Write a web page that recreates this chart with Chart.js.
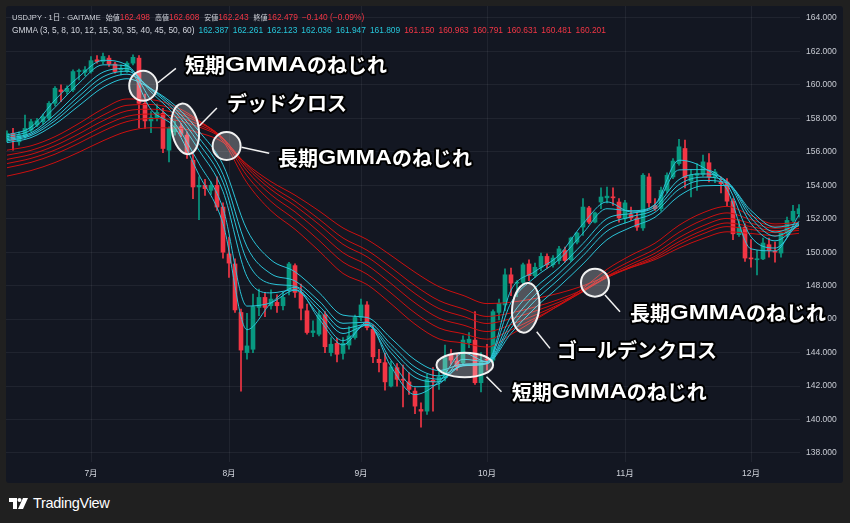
<!DOCTYPE html>
<html>
<head>
<meta charset="utf-8">
<script src="https://cdn.jsdelivr.net/npm/chart.js@4.4.1/dist/chart.umd.min.js"></script>
<style>
  html, body { margin: 0; padding: 0; width: 850px; height: 523px; overflow: hidden; background: #202020;
    font-family: "Liberation Sans", "Noto Sans CJK JP", sans-serif; }
  #panel { position: absolute; left: 6px; top: 6px; width: 837px; height: 477px; background: #131722;
    border-radius: 3px; overflow: hidden; }
  #chart { position: absolute; left: 0; top: 0; }
  #legend { position: absolute; left: 12px; top: 11px; font-size: 8.4px; line-height: 13px; color: #d1d4dc;
    white-space: nowrap; }
  #row1 .name { font-size: 7.6px; }
  #row1 .grp { margin-left: 5px; }
  #row1 .lbl { font-size: 7px; }
  #row1 .chg { margin-left: 4px; }
  #row2 span { margin-right: 4px; }
  .up { color: #26c6da; }
  .dn { color: #f23645; }
  #brand { position: absolute; left: 9px; top: 494px; height: 18px; display: flex; align-items: center; color: #fff;
    font-size: 14.5px; letter-spacing: -0.3px; }
  #brand svg { margin-right: 5px; }
</style>
</head>
<body>
<div id="panel"><canvas id="chart" width="837" height="477"></canvas></div>
<div id="legend"><div id="row1"></div><div id="row2"></div></div>
<div id="brand">
  <svg width="19" height="11" viewBox="0 0 19 11"><path d="M0 0H8V11H4V4H0Z" fill="#fff"/><circle cx="10.5" cy="2" r="2" fill="#fff"/><path d="M14 0H19L14 11H9Z" fill="#fff"/></svg>
  <span>TradingView</span>
</div>
<script>
// USDJPY daily, bar 0 = 6/11, bar 14 = 7/1 ... bar 132 = 12/12
const months = ['7月', '8月', '9月', '10月', '11月', '12月'];
const monthStartIdx = [14, 37, 59, 80, 103, 124];
const priceTicks = [138, 140, 142, 144, 146, 148, 150, 152, 154, 156, 158, 160, 162, 164];

const opens = [156.80, 157.10, 156.60, 156.90, 157.30, 157.60, 157.80, 158.00, 158.90, 159.70,
  159.60, 159.70, 160.80, 160.75, 160.80, 161.50, 161.40, 161.60, 161.25, 160.90,
  160.80, 161.30, 161.60, 158.90, 157.85, 158.05, 158.30, 156.10, 157.20, 157.50,
  157.00, 155.50, 153.90, 154.00, 153.70, 154.00, 152.70, 149.90, 149.30, 146.40,
  144.00, 144.20, 146.70, 147.30, 146.80, 147.00, 146.80, 147.75, 149.20, 147.60,
  146.50, 145.20, 145.10, 146.25, 144.00, 144.55, 143.95, 144.45, 144.90, 146.10,
  146.85, 145.40, 143.60, 143.40, 142.00, 143.10, 142.40, 142.25, 141.70, 140.60,
  140.50, 142.35, 142.25, 142.50, 143.85, 143.50, 143.40, 144.60, 144.75, 142.20,
  143.60, 143.55, 146.40, 146.85, 148.65, 148.15, 148.20, 149.30, 148.60, 149.10,
  149.75, 149.25, 149.50, 150.10, 149.55, 150.60, 151.50, 152.65, 151.80, 153.00,
  153.25, 153.30, 153.00, 152.00, 152.25, 152.05, 151.45, 154.50, 152.80, 152.60,
  153.70, 154.50, 155.30, 156.20, 154.25, 154.60, 154.65, 155.35, 154.50, 154.20,
  154.20, 153.05, 151.05, 151.50, 149.65, 149.55, 149.60, 150.45, 150.05, 149.95,
  151.15, 151.90, 152.30];
const highs = [157.25, 157.40, 157.20, 158.20, 157.95, 158.00, 158.25, 159.00, 159.90, 160.00,
  159.95, 160.90, 160.95, 161.10, 161.70, 161.75, 161.90, 161.75, 161.35, 161.20,
  161.40, 161.80, 161.75, 159.45, 158.40, 158.85, 158.60, 157.50, 157.85, 157.70,
  157.20, 155.90, 154.50, 154.35, 154.20, 154.50, 152.95, 150.90, 149.60, 146.60,
  146.35, 147.50, 147.80, 147.60, 147.75, 147.45, 147.60, 149.40, 149.30, 148.10,
  146.90, 145.90, 146.50, 146.45, 144.90, 144.85, 144.90, 145.55, 146.25, 147.20,
  147.05, 145.65, 144.20, 143.95, 143.50, 143.35, 143.25, 142.80, 141.90, 141.00,
  142.70, 143.10, 143.00, 144.45, 144.20, 143.90, 145.00, 145.20, 146.45, 144.00,
  144.50, 146.55, 147.20, 149.00, 149.05, 148.30, 149.35, 149.55, 149.35, 149.95,
  149.90, 149.80, 150.35, 150.30, 150.90, 151.20, 153.20, 152.75, 152.40, 153.85,
  153.90, 153.85, 153.20, 153.10, 152.70, 152.40, 154.70, 154.70, 153.20, 153.90,
  154.75, 155.60, 156.75, 156.70, 154.95, 155.30, 155.80, 155.90, 154.95, 154.50,
  154.40, 153.20, 151.95, 151.70, 150.75, 150.10, 150.85, 150.85, 150.60, 151.20,
  152.10, 152.80, 152.85];
const lows = [156.60, 156.10, 156.40, 156.80, 157.20, 157.50, 157.65, 157.90, 158.75, 159.00,
  159.45, 159.60, 160.30, 160.55, 160.70, 161.30, 161.25, 161.10, 160.70, 160.60,
  160.75, 161.20, 157.45, 157.40, 157.15, 157.85, 155.95, 155.40, 157.00, 156.90,
  155.60, 153.20, 151.95, 153.40, 153.45, 152.50, 149.65, 148.50, 146.40, 141.70,
  143.60, 144.00, 146.20, 146.15, 146.60, 146.40, 146.55, 147.45, 147.30, 145.95,
  145.10, 144.95, 145.00, 144.00, 143.80, 143.45, 143.60, 144.20, 144.80, 145.90,
  145.35, 143.40, 142.85, 141.75, 141.95, 142.00, 140.75, 141.50, 140.35, 139.55,
  140.30, 140.50, 141.80, 142.30, 143.30, 142.95, 143.30, 144.30, 142.10, 141.65,
  142.95, 143.35, 145.95, 146.50, 147.40, 147.35, 148.05, 148.30, 148.50, 148.90,
  149.05, 149.10, 149.30, 149.40, 149.45, 150.50, 151.00, 151.70, 151.75, 152.60,
  152.95, 152.80, 151.80, 151.75, 151.90, 151.30, 151.30, 152.70, 152.50, 152.45,
  153.55, 154.40, 155.20, 153.85, 153.30, 153.70, 154.55, 154.20, 154.15, 153.55,
  152.75, 150.75, 150.95, 149.45, 149.10, 148.65, 149.55, 149.70, 149.40, 149.70,
  150.95, 151.80, 152.10];
const closes = [157.10, 156.70, 157.00, 157.40, 157.80, 157.85, 158.10, 158.90, 159.80, 159.60,
  159.80, 160.80, 160.80, 160.90, 161.45, 161.40, 161.70, 161.25, 160.80, 161.00,
  161.30, 161.65, 158.90, 157.85, 158.05, 158.35, 156.20, 157.40, 157.50, 157.10,
  155.90, 153.90, 154.00, 153.80, 154.00, 152.70, 150.00, 149.35, 146.55, 144.15,
  144.40, 146.75, 147.30, 146.70, 147.20, 146.80, 147.30, 149.30, 147.60, 146.65,
  145.20, 145.30, 146.25, 144.35, 144.50, 143.90, 144.55, 145.00, 146.10, 146.85,
  145.50, 143.75, 143.40, 142.25, 143.15, 142.40, 142.35, 141.80, 140.80, 140.50,
  142.40, 142.25, 142.55, 143.70, 143.55, 143.15, 144.75, 144.80, 142.20, 143.45,
  143.55, 146.45, 146.95, 148.65, 148.15, 148.20, 149.25, 148.60, 149.10, 149.75,
  149.25, 149.65, 150.20, 149.50, 150.85, 151.15, 152.70, 151.80, 152.35, 153.30,
  153.35, 153.25, 152.05, 152.95, 152.05, 151.50, 154.60, 152.95, 152.60, 153.70,
  154.60, 155.45, 156.30, 154.45, 154.60, 154.70, 155.40, 154.50, 154.80, 154.10,
  153.05, 151.10, 151.50, 149.65, 149.60, 149.60, 150.55, 150.10, 150.00, 151.15,
  151.90, 152.45, 152.60];

// GMMA lines every 4 bars
const gmmaIdx = [0, 4, 8, 12, 16, 20, 24, 28, 32, 36, 40, 44, 48, 52, 56, 60, 64,
  68, 72, 76, 80, 84, 88, 92, 96, 100, 104, 108, 112, 116, 120, 124, 128, 132];
const ema3 = [157.00, 157.48, 159.10, 160.49, 161.47, 161.17, 158.53, 157.43, 154.62, 151.70, 145.37, 146.95, 147.90, 146.01, 144.46, 145.82, 143.16,
  141.49, 142.26, 143.98, 143.46, 147.73, 148.85, 149.83, 151.70, 153.01, 152.41, 152.86, 155.50, 155.07, 153.75, 150.20, 150.08, 152.23];
const ema5 = [156.90, 157.31, 158.66, 160.11, 161.20, 161.14, 159.10, 157.69, 155.30, 152.62, 146.78, 146.98, 147.73, 146.22, 144.71, 145.68, 143.55,
  141.96, 142.14, 143.60, 143.46, 146.99, 148.50, 149.56, 151.14, 152.60, 152.48, 152.84, 154.92, 154.94, 154.06, 150.92, 150.25, 151.85];
const ema8 = [156.80, 157.14, 158.24, 159.60, 160.76, 160.98, 159.58, 158.16, 156.09, 153.63, 148.54, 147.57, 147.76, 146.54, 145.14, 145.63, 144.00,
  142.52, 142.25, 143.29, 143.39, 146.16, 147.86, 149.07, 150.52, 152.01, 152.32, 152.71, 154.34, 154.68, 154.22, 151.71, 150.68, 151.63];
const ema10 = [156.72, 157.05, 158.03, 159.32, 160.48, 160.82, 159.72, 158.41, 156.50, 154.18, 149.50, 148.12, 147.97, 146.79, 145.43, 145.69, 144.24,
  142.84, 142.41, 143.21, 143.34, 145.75, 147.45, 148.73, 150.15, 151.63, 152.12, 152.57, 154.04, 154.49, 154.21, 152.05, 150.96, 151.61];
const ema12 = [156.65, 156.97, 157.86, 159.07, 160.21, 160.64, 159.78, 158.59, 156.84, 154.65, 150.32, 148.71, 148.28, 147.09, 145.75, 145.82, 144.49,
  143.14, 142.61, 143.22, 143.34, 145.46, 147.10, 148.39, 149.79, 151.26, 151.87, 152.39, 153.76, 154.29, 154.15, 152.29, 151.21, 151.66];
const ema15 = [156.55, 156.85, 157.65, 158.76, 159.85, 160.37, 159.77, 158.77, 157.23, 155.23, 151.34, 149.54, 148.83, 147.59, 146.24, 146.10, 144.86,
  143.57, 142.93, 143.31, 143.37, 145.15, 146.67, 147.94, 149.30, 150.75, 151.49, 152.09, 153.36, 153.97, 153.99, 152.49, 151.49, 151.74];
const ema30 = [156.10, 156.36, 156.91, 157.70, 158.57, 159.16, 159.12, 158.71, 157.87, 156.64, 154.15, 152.48, 151.37, 150.08, 148.73, 148.07, 146.92,
  145.70, 144.82, 144.58, 144.33, 145.08, 145.95, 146.84, 147.84, 148.98, 149.82, 150.54, 151.61, 152.36, 152.74, 152.19, 151.69, 151.79];
const ema35 = [155.80, 156.09, 156.62, 157.37, 158.19, 158.78, 158.83, 158.53, 157.83, 156.76, 154.57, 153.03, 151.95, 150.71, 149.41, 148.69, 147.56,
  146.37, 145.47, 145.13, 144.80, 145.36, 146.06, 146.81, 147.69, 148.71, 149.49, 150.19, 151.19, 151.93, 152.35, 151.95, 151.56, 151.67];
const ema40 = [155.55, 155.85, 156.37, 157.08, 157.86, 158.45, 158.55, 158.33, 157.75, 156.82, 154.86, 153.44, 152.41, 151.22, 149.97, 149.23, 148.13,
  146.97, 146.06, 145.65, 145.26, 145.67, 146.24, 146.88, 147.64, 148.56, 149.28, 149.94, 150.87, 151.58, 152.02, 151.73, 151.43, 151.55];
const ema45 = [155.30, 155.61, 156.11, 156.79, 157.54, 158.12, 158.26, 158.11, 157.62, 156.81, 155.06, 153.75, 152.78, 151.66, 150.47, 149.73, 148.66,
  147.53, 146.63, 146.17, 145.74, 146.03, 146.48, 147.01, 147.67, 148.49, 149.15, 149.76, 150.63, 151.31, 151.75, 151.53, 151.29, 151.42];
const ema50 = [155.05, 155.37, 155.86, 156.52, 157.24, 157.81, 157.99, 157.90, 157.49, 156.77, 155.18, 153.97, 153.05, 151.98, 150.85, 150.12, 149.09,
  148.00, 147.11, 146.62, 146.16, 146.37, 146.73, 147.18, 147.76, 148.49, 149.09, 149.65, 150.46, 151.10, 151.53, 151.36, 151.17, 151.31];
const ema60 = [154.55, 154.88, 155.36, 155.98, 156.66, 157.22, 157.44, 157.43, 157.14, 156.57, 155.25, 154.22, 153.41, 152.47, 151.45, 150.76, 149.81,
  148.80, 147.94, 147.42, 146.93, 147.01, 147.23, 147.55, 147.99, 148.58, 149.08, 149.56, 150.25, 150.82, 151.22, 151.12, 150.99, 151.13];

// legend texts
const ohlcLabels = ['始値', '高値', '安値', '終値'];
const ohlcValues = ['162.498', '162.608', '162.243', '162.479'];
const shortLegend = ['162.387', '162.261', '162.123', '162.036', '161.947', '161.809'];
const longLegend = ['161.150', '160.963', '160.791', '160.631', '160.481', '160.201'];

const upColor = '#089981';
const downColor = '#f23645';
const shortColor = '#2bc4d8';
const longColor = '#cc1010';

// legend rows
const row1 = document.getElementById('row1');
row1.innerHTML = '<span class="name">USDJPY · 1日 · GAITAME</span>' +
  ohlcLabels.map((l, k) => '<span class="grp"><span class="lbl">' + l + '</span><span class="dn">' + ohlcValues[k] + '</span></span>').join('') +
  '<span class="dn chg">−0.140 (−0.09%)</span>';
const row2 = document.getElementById('row2');
row2.innerHTML = '<span>GMMA (3, 5, 8, 10, 12, 15, 30, 35, 40, 45, 50, 60)</span>' +
  shortLegend.map(v => '<span class="up">' + v + '</span>').join('') +
  longLegend.map(v => '<span class="dn">' + v + '</span>').join('');

const candleColors = opens.map((o, k) => closes[k] >= o ? upColor : downColor);
const bodies = opens.map((o, k) => ({ x: k, y: [o, closes[k]] }));
const wicks = lows.map((l, k) => ({ x: k, y: [l, highs[k]] }));

const gmmaShort = [ema3, ema5, ema8, ema10, ema12, ema15];
const gmmaLong = [ema30, ema35, ema40, ema45, ema50, ema60];

function lineSet(series, color) {
  return {
    type: 'line',
    data: gmmaIdx.map((v, k) => ({ x: v, y: series[k] })),
    borderColor: color,
    borderWidth: 1,
    pointRadius: 0,
    cubicInterpolationMode: 'monotone',
    order: 0
  };
}

// callouts: circle centre in bar index / price, the rest in pixels
const callouts = [
  { parts: ['短期', 'GMMA', 'のねじれ'], at: 22.7, price: 159.95, rx: 14, ry: 15, rot: 0, lead: [14.7, -3, 32.7, -17.4], label: [41.7, -20.7], width: 202 },
  { parts: ['デッドクロス'], at: 29.7, price: 157.37, rx: 13.5, ry: 25.5, rot: -0.15, lead: [14, -3, 31.7, -21], label: [41.7, -26], width: 120 },
  { parts: ['長期', 'GMMA', 'のねじれ'], at: 36.6, price: 156.35, rx: 14, ry: 14, rot: 0, lead: [15, 1.3, 42.6, 7.3], label: [51.3, 12], width: 194 },
  { parts: ['短期', 'GMMA', 'のねじれ'], at: 76.3, price: 143.26, rx: 28.3, ry: 12.3, rot: 0, lead: [21.7, 11.7, 36.7, 26.7], label: [47, 27], width: 195 },
  { parts: ['ゴールデンクロス'], at: 86.45, price: 146.68, rx: 13.5, ry: 25, rot: 0.12, lead: [11, 24, 24.3, 40.6], label: [31.3, 42.3], width: 160 },
  { parts: ['長期', 'GMMA', 'のねじれ'], at: 98, price: 148.18, rx: 14, ry: 14, rot: 0, lead: [10, 12.3, 25, 29], label: [35, 30.3], width: 196 }
];

const cjkFont = 'bold 20px "Noto Sans CJK JP"';
const latinFont = 'bold 21px "Liberation Sans"';

// lay the label out in runs; the Latin run is widened to fill the label width
function drawLabel(ctx, n, tx, ty) {
  const isLatin = p => /^[A-Z]+$/.test(p);
  let cjkW = 0, latinW = 0;
  const widths = n.parts.map(p => {
    ctx.font = isLatin(p) ? latinFont : cjkFont;
    const w = ctx.measureText(p).width;
    if (isLatin(p)) latinW += w; else cjkW += w;
    return w;
  });
  const sx = latinW > 0 ? Math.max(1, (n.width - cjkW) / latinW) : 1;
  ['stroke', 'fill'].forEach(pass => {
    let px = tx;
    n.parts.forEach((p, k) => {
      const lat = isLatin(p);
      ctx.save();
      ctx.font = lat ? latinFont : cjkFont;
      ctx.translate(px, ty);
      if (lat) ctx.scale(sx, 1);
      if (pass === 'stroke') {
        ctx.lineJoin = 'round';
        ctx.lineWidth = lat ? 4 / sx : 4;
        ctx.strokeStyle = '#000';
        ctx.strokeText(p, 0, 0);
      } else {
        ctx.fillStyle = '#fff';
        ctx.fillText(p, 0, 0);
      }
      ctx.restore();
      px += widths[k] * (lat ? sx : 1);
    });
  });
}

const calloutPlugin = {
  id: 'callouts',
  afterDraw(chart) {
    const { ctx, scales: { x, y } } = chart;
    ctx.save();
    ctx.textBaseline = 'middle';
    callouts.forEach(n => {
      const cx = x.getPixelForValue(n.at);
      const cy = y.getPixelForValue(n.price);
      ctx.beginPath();
      ctx.ellipse(cx, cy, n.rx, n.ry, n.rot, 0, Math.PI * 2);
      ctx.fillStyle = 'rgba(255,255,255,0.26)';
      ctx.fill();
      ctx.lineWidth = 2;
      ctx.strokeStyle = '#f2f2f2';
      ctx.stroke();
      ctx.beginPath();
      ctx.moveTo(cx + n.lead[0], cy + n.lead[1]);
      ctx.lineTo(cx + n.lead[2], cy + n.lead[3]);
      ctx.lineWidth = 1.5;
      ctx.stroke();
      drawLabel(ctx, n, cx + n.label[0], cy + n.label[1]);
    });
    ctx.restore();
  }
};

const gridColor = 'rgba(255,255,255,0.06)';

new Chart(document.getElementById('chart'), {
  type: 'bar',
  data: {
    datasets: [
      ...gmmaShort.map(s => lineSet(s, shortColor)),
      ...gmmaLong.map(s => lineSet(s, longColor)),
      { data: bodies, backgroundColor: candleColors, barThickness: 4, minBarLength: 1, grouped: false, order: 1 },
      { data: wicks, backgroundColor: candleColors, barThickness: 1, grouped: false, order: 2 }
    ]
  },
  options: {
    responsive: false,
    animation: false,
    devicePixelRatio: 1,
    layout: { padding: 0 },
    plugins: { legend: { display: false }, tooltip: { enabled: false } },
    scales: {
      x: {
        type: 'linear',
        min: -1 / 6,
        max: 132 + 1 / 6,
        offset: false,
        border: { display: false },
        grid: { color: gridColor, drawTicks: false, offset: false },
        ticks: {
          color: '#d1d4dc',
          font: { size: 8.5, family: '"Liberation Sans", "Noto Sans CJK JP"' },
          padding: 7,
          maxRotation: 0,
          autoSkip: false,
          callback: v => months[monthStartIdx.indexOf(v)]
        },
        afterBuildTicks: s => { s.ticks = monthStartIdx.map(v => ({ value: v })); },
        afterFit: s => { s.height = 21; s.paddingLeft = 0; s.paddingRight = 0; }
      },
      y: {
        position: 'right',
        min: 137.461,
        max: 164.717,
        border: { display: false },
        grid: { color: gridColor, drawTicks: false },
        ticks: {
          color: '#c8cbd3',
          font: { size: 8.5, family: '"Liberation Sans"' },
          padding: 6,
          callback: v => Number(v).toFixed(3)
        },
        afterBuildTicks: s => { s.ticks = priceTicks.map(v => ({ value: v })); },
        afterFit: s => { s.width = 43; s.paddingTop = 0; s.paddingBottom = 0; }
      }
    }
  },
  plugins: [calloutPlugin]
});
</script>
</body>
</html>
